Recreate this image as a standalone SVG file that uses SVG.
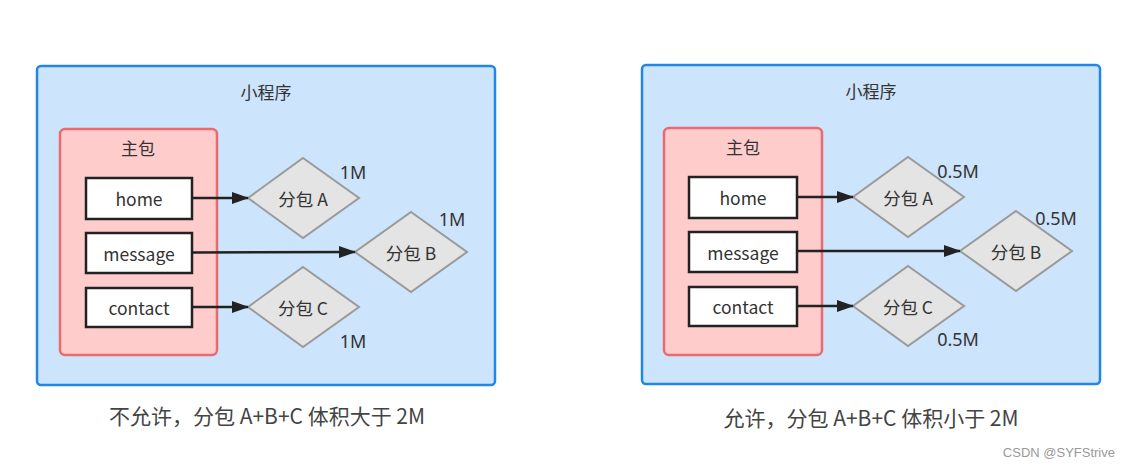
<svg xmlns="http://www.w3.org/2000/svg" width="1131" height="468" viewBox="0 0 1131 468">
<defs>
<style>
.outer{fill:#cce4fc;stroke:#2186e8;stroke-width:2.5}
.main{fill:#ffcccc;stroke:#ec6a6e;stroke-width:2.5}
.box{fill:#ffffff;stroke:#222;stroke-width:2.5}
.dia{fill:#e4e4e4;stroke:#9a9a9a;stroke-width:2}
.t{font-family:"Noto Sans CJK SC","Noto Sans",sans-serif;fill:#333;text-anchor:middle;dominant-baseline:central}
.lbl{font-size:17.5px}
.ttl{font-size:17px}
.sz{font-family:"Noto Sans","Noto Sans CJK SC",sans-serif;font-size:18px;fill:#333;text-anchor:middle;dominant-baseline:central}
.cap{font-family:"Noto Sans CJK SC",sans-serif;font-size:21px;fill:#444;text-anchor:middle;dominant-baseline:central}
.edge{stroke:#222;stroke-width:2.5;fill:none;marker-end:url(#ah)}
</style>
<marker id="ah" markerWidth="17" markerHeight="12" refX="16" refY="6" orient="auto" markerUnits="userSpaceOnUse" viewBox="0 0 17 12">
<path d="M0,0 L17,6 L0,12 Z" fill="#222"/>
</marker>
</defs>
<rect width="1131" height="468" fill="#ffffff"/>

<!-- Left panel -->
<g id="left-app"><rect class="outer" x="37" y="66" width="458" height="319" rx="4"/><text class="t ttl" x="266" y="91">小程序</text></g>
<g id="left-main"><rect class="main" x="60" y="129" width="157" height="226" rx="5"/><text class="t ttl" x="138" y="147">主包</text></g>
<g id="left-home"><rect class="box" x="86" y="178" width="106" height="41"/><text class="t lbl" x="139" y="198">home</text></g>
<g id="left-message"><rect class="box" x="86" y="233" width="106" height="40"/><text class="t lbl" x="139" y="253">message</text></g>
<g id="left-contact"><rect class="box" x="86" y="288" width="106" height="39"/><text class="t lbl" x="139" y="307">contact</text></g>
<g id="left-A"><polygon class="dia" points="303,158 359,198 303,238 248,198"/><text class="t lbl" x="303" y="198">分包 A</text><text class="sz" x="353" y="172">1M</text></g>
<g id="left-B"><polygon class="dia" points="411,212 467,252 411,292 355,252"/><text class="t lbl" x="411" y="252">分包 B</text><text class="sz" x="452" y="219">1M</text></g>
<g id="left-C"><polygon class="dia" points="303,267 359,307 303,347 248,307"/><text class="t lbl" x="303" y="307">分包 C</text><text class="sz" x="353" y="341">1M</text></g>

<!-- Right panel -->
<g id="right-app"><rect class="outer" x="642" y="65" width="458" height="319" rx="4"/><text class="t ttl" x="871" y="90">小程序</text></g>
<g id="right-main"><rect class="main" x="664" y="128" width="158" height="227" rx="5"/><text class="t ttl" x="743" y="146">主包</text></g>
<g id="right-home"><rect class="box" x="689" y="177" width="108" height="41"/><text class="t lbl" x="743" y="197">home</text></g>
<g id="right-message"><rect class="box" x="689" y="232" width="108" height="40"/><text class="t lbl" x="743" y="252">message</text></g>
<g id="right-contact"><rect class="box" x="689" y="287" width="108" height="39"/><text class="t lbl" x="743" y="306">contact</text></g>
<g id="right-A"><polygon class="dia" points="908,157 964,197 908,237 853,197"/><text class="t lbl" x="908" y="197">分包 A</text><text class="sz" x="958" y="171">0.5M</text></g>
<g id="right-B"><polygon class="dia" points="1016,211 1072,251 1016,291 960,251"/><text class="t lbl" x="1016" y="251">分包 B</text><text class="sz" x="1056" y="218">0.5M</text></g>
<g id="right-C"><polygon class="dia" points="908,266 964,306 908,346 853,306"/><text class="t lbl" x="908" y="306">分包 C</text><text class="sz" x="958" y="339">0.5M</text></g>

<g id="connectors">
<line class="edge" x1="192" y1="198" x2="248" y2="198"/>
<line class="edge" x1="192" y1="252.5" x2="355" y2="252"/>
<line class="edge" x1="192" y1="307" x2="248" y2="307"/>
<line class="edge" x1="797" y1="197" x2="853" y2="197"/>
<line class="edge" x1="797" y1="251" x2="960" y2="251"/>
<line class="edge" x1="797" y1="306" x2="853" y2="306"/>
</g>

<text class="cap" x="267" y="415">不允许，分包 A+B+C 体积大于 2M</text>
<text class="cap" x="871" y="417">允许，分包 A+B+C 体积小于 2M</text>
<text x="1115" y="452" font-family="'Liberation Sans',sans-serif" font-size="13" fill="#999" text-anchor="end" dominant-baseline="central">CSDN @SYFStrive</text>
</svg>
